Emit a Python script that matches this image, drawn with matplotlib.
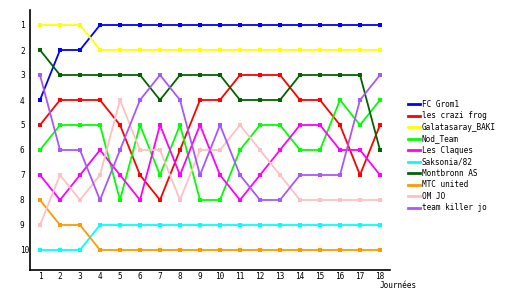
import matplotlib
matplotlib.use("Agg")
import matplotlib.pyplot as plt
from matplotlib.lines import Line2D

journees = list(range(1, 19))
teams = ["FC Grom1", "les crazi frog", "Galatasaray_BAKI", "Nod_Team", "Les Claques",
         "Saksonia/82", "Montbronn AS", "MTC united", "OM JO", "team killer jo"]
colors = ["#0000FF", "#FF0000", "#FFFF00", "#00FF00", "#FF00FF",
          "#00FFFF", "#006400", "#FF9900", "#FFC0C0", "#A858F8"]

fc_grom1 = [4, 2, 2, 1, 1, 1, 1, 1, 1, 1, 1, 1, 1, 1, 1, 1, 1, 1]
crazi_frog = [5, 4, 4, 4, 5, 7, 8, 6, 4, 4, 3, 3, 3, 4, 4, 5, 7, 5]
galatasaray = [1, 1, 1, 2, 2, 2, 2, 2, 2, 2, 2, 2, 2, 2, 2, 2, 2, 2]
nod_team = [6, 5, 5, 5, 8, 5, 7, 5, 8, 8, 6, 5, 5, 6, 6, 4, 5, 4]
les_claques = [7, 8, 7, 6, 7, 8, 5, 7, 5, 7, 8, 7, 6, 5, 5, 6, 6, 7]
saksonia = [10, 10, 10, 9, 9, 9, 9, 9, 9, 9, 9, 9, 9, 9, 9, 9, 9, 9]
montbronn = [2, 3, 3, 3, 3, 3, 4, 3, 3, 3, 4, 4, 4, 3, 3, 3, 3, 6]
mtc_united = [8, 9, 9, 10, 10, 10, 10, 10, 10, 10, 10, 10, 10, 10, 10, 10, 10, 10]
om_jo = [9, 7, 8, 7, 4, 6, 6, 8, 6, 6, 5, 6, 7, 8, 8, 8, 8, 8]
killer_jo = [3, 6, 6, 8, 6, 4, 3, 4, 7, 5, 7, 8, 8, 7, 7, 7, 4, 3]

series = [fc_grom1, crazi_frog, galatasaray, nod_team, les_claques,
          saksonia, montbronn, mtc_united, om_jo, killer_jo]

FS = 5.6
MONO = "DejaVu Sans Mono"

fig = plt.figure(figsize=(5.3, 3.0), dpi=100)
ax = fig.add_axes([30/530, 1 - 270/300, 360/530, 260/300])

for vals, c in zip(series, colors):
    ax.plot(journees, vals, color=c, linewidth=1.3, marker='s', markersize=2.5,
            markeredgewidth=0, solid_joinstyle='miter')

ax.set_xlim(0.5, 18.5)
ax.set_ylim(10.8, 0.4)
ax.set_xticks(journees)
ax.set_yticks(range(1, 11))
ax.spines['top'].set_visible(False)
ax.spines['right'].set_visible(False)
ax.spines['left'].set_linewidth(1.2)
ax.spines['bottom'].set_linewidth(1.2)
ax.tick_params(axis='y', length=0, pad=7.2, labelsize=FS)
ax.tick_params(axis='x', length=0, pad=1.5, labelsize=FS)
for lab in ax.get_yticklabels():
    lab.set_family(MONO)
    lab.set_horizontalalignment('left')
for lab in ax.get_xticklabels():
    lab.set_family(MONO)

fig.text(398/530, 1 - 285/300, "Journées", ha='center', va='center',
         fontsize=FS, family=MONO)

handles = [Line2D([0], [0], color=c, linewidth=2) for c in colors]
fig.legend(handles, teams, loc='upper left', bbox_to_anchor=(408/530, 1 - 100/300),
           frameon=False, prop={'family': MONO, 'size': FS},
           handlelength=1.5, handletextpad=0.3, labelspacing=0.32,
           borderpad=0, borderaxespad=0)

fig.savefig("out.png", dpi=100)
